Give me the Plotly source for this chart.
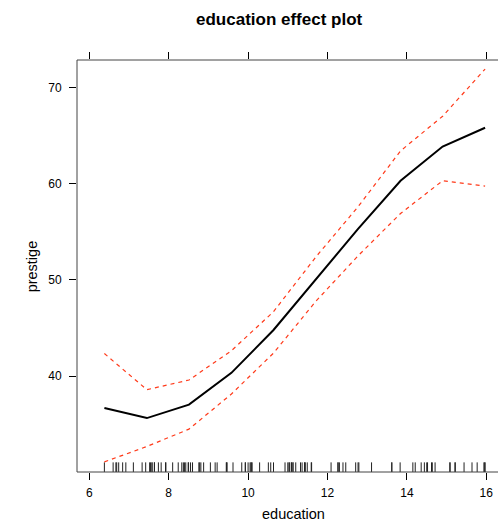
import plotly.graph_objects as go

# Effect estimates (education effect on prestige)
education_pts = [6.38, 7.45, 8.51, 9.58, 10.64, 11.71, 12.77, 13.84, 14.90, 15.97]
fit = [36.7, 35.65, 37.05, 40.35, 44.8, 50.1, 55.3, 60.3, 63.85, 65.8]
upper = [42.35, 38.6, 39.6, 42.65, 46.7, 52.4, 57.6, 63.4, 67.0, 71.9]
lower = [31.1, 32.7, 34.5, 38.15, 42.4, 47.8, 52.5, 56.9, 60.3, 59.75]

# Rug: observed education values
education_obs = [13.11, 12.26, 12.77, 11.42, 14.62, 15.64, 15.09, 15.44, 14.52, 14.64,
                 12.39, 12.30, 13.83, 14.44, 14.36, 14.21, 15.77, 14.15, 15.22, 14.50,
                 15.97, 13.62, 15.08, 15.96, 15.94, 14.71, 12.46, 9.45, 13.62, 15.21,
                 12.79, 11.09, 12.71, 11.44, 11.59, 11.49, 11.32, 10.64, 11.36, 9.17,
                 12.09, 11.04, 9.22, 10.07, 10.51, 11.20, 11.13, 11.43, 11.00, 9.84,
                 11.13, 10.05, 9.62, 9.93, 11.60, 11.09, 11.03, 9.47, 10.93, 7.74,
                 8.50, 10.57, 9.46, 7.33, 7.11, 7.58, 6.84, 8.60, 8.88, 7.54,
                 7.64, 7.64, 7.42, 6.69, 6.74, 10.09, 8.81, 8.40, 7.92, 8.43,
                 8.78, 8.76, 10.29, 6.38, 8.10, 10.10, 6.67, 9.05, 9.93, 8.24,
                 6.92, 6.60, 7.81, 8.33, 7.52, 12.27, 8.49, 7.58, 7.93, 8.37,
                 10.00, 8.55]

x_ticks = [6, 8, 10, 12, 14, 16]
y_ticks = [40, 50, 60, 70]

X_RANGE = [5.69, 16.295]
Y_RANGE = [30.05, 72.84]
RUG_H = 1.0  # rug tick height in data units

rug_x, rug_y = [], []
for v in education_obs:
    rug_x += [v, v, None]
    rug_y += [Y_RANGE[0], Y_RANGE[0] + RUG_H, None]

RED = "#ff3a1a"
fig = go.Figure()
fig.add_trace(go.Scatter(x=rug_x, y=rug_y, mode="lines",
                         line=dict(color="#222222", width=1), hoverinfo="skip"))
fig.add_trace(go.Scatter(x=education_pts, y=upper, mode="lines",
                         line=dict(color=RED, width=1.2, dash="4px,4px")))
fig.add_trace(go.Scatter(x=education_pts, y=lower, mode="lines",
                         line=dict(color=RED, width=1.2, dash="4px,4px")))
fig.add_trace(go.Scatter(x=education_pts, y=fit, mode="lines",
                         line=dict(color="black", width=2)))
# dummy trace for top axis ticks
fig.add_trace(go.Scatter(x=[X_RANGE[0]], y=[Y_RANGE[0]], xaxis="x2", mode="markers",
                         marker=dict(opacity=0), hoverinfo="skip"))

font = "Liberation Sans, Arial, Helvetica, sans-serif"
fig.update_layout(
    width=498, height=522,
    margin=dict(l=77, r=0, t=60, b=50),
    paper_bgcolor="white", plot_bgcolor="white",
    showlegend=False,
    font=dict(family=font, size=12, color="black"),
    xaxis=dict(range=X_RANGE, tickvals=x_ticks, ticks="outside", ticklen=7,
               tickcolor="black", showgrid=False, zeroline=False, showline=False,
               ticklabelstandoff=3, tickfont=dict(size=12)),
    xaxis2=dict(range=X_RANGE, tickvals=x_ticks, ticks="outside", ticklen=7,
                tickcolor="black", overlaying="x", side="top", showticklabels=False,
                showgrid=False, zeroline=False, showline=False),
    yaxis=dict(range=Y_RANGE, tickvals=y_ticks, ticks="outside", ticklen=7,
               tickcolor="black", showgrid=False, zeroline=False, showline=False,
               ticklabelstandoff=5, tickfont=dict(size=12)),
    shapes=[
        dict(type="line", xref="paper", yref="paper", x0=0, x1=0, y0=0, y1=1,
             line=dict(color="#444444", width=1)),
        dict(type="line", xref="paper", yref="paper", x0=0, x1=1, y0=0, y1=0,
             line=dict(color="#444444", width=1)),
        dict(type="line", xref="paper", yref="paper", x0=0, x1=1, y0=1, y1=1,
             line=dict(color="#444444", width=1)),
    ],
    annotations=[
        dict(text="<b>education effect plot</b>", xref="paper", yref="paper",
             x=0.48, y=1.0995, xanchor="center", yanchor="middle",
             showarrow=False, font=dict(size=17, family=font)),
        dict(text="education", xref="paper", yref="paper",
             x=0.515, y=-0.102, xanchor="center", yanchor="middle",
             showarrow=False, font=dict(size=14.5, family=font)),
        dict(text="prestige", xref="paper", yref="paper",
             x=-0.106, y=0.5, xanchor="center", yanchor="middle", textangle=-90,
             showarrow=False, font=dict(size=14.5, family=font)),
    ],
)

fig.write_html("out.html")
